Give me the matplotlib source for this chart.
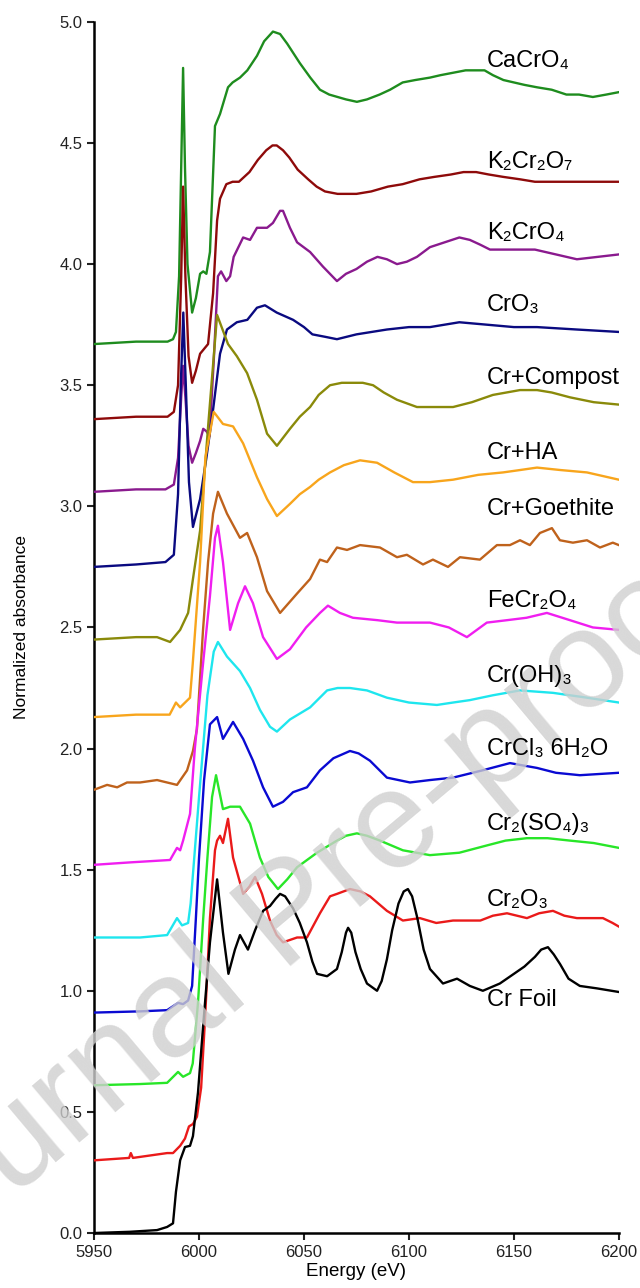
import matplotlib
matplotlib.use("Agg")
import matplotlib.pyplot as plt

FONT = ["Liberation Sans", "DejaVu Sans"]
plt.rcParams["font.family"] = FONT

# ---- data (energy in eV, normalized absorbance) ----
cacro4_e = [5950, 5970, 5985, 5987.6, 5989, 5990.5, 5991.5, 5992.4, 5993.3, 5994.5, 5996.7, 5998.5,
            6000.5, 6002, 6003.5, 6005.2, 6007.6, 6010, 6013.8, 6016, 6019.5, 6023, 6027.6, 6031,
            6035.2, 6038.6, 6042, 6045, 6048, 6053, 6057.6, 6062, 6066, 6070, 6075.2, 6080,
            6086, 6091, 6097, 6103, 6110, 6115, 6121, 6127, 6132.4, 6136, 6140, 6145, 6150,
            6155, 6161, 6168, 6175, 6181, 6187.6, 6194, 6200]
cacro4_a = [3.67, 3.68, 3.68, 3.69, 3.72, 3.95, 4.40, 4.81, 4.40, 4.00, 3.80, 3.86,
            3.96, 3.97, 3.96, 4.05, 4.57, 4.62, 4.73, 4.75, 4.77, 4.80, 4.86, 4.92,
            4.96, 4.95, 4.91, 4.87, 4.83, 4.77, 4.72, 4.70, 4.69, 4.68, 4.67, 4.68,
            4.70, 4.72, 4.75, 4.76, 4.77, 4.78, 4.79, 4.80, 4.80, 4.80, 4.78, 4.76, 4.75,
            4.74, 4.73, 4.72, 4.70, 4.70, 4.69, 4.70, 4.71]

k2cr2o7_e = [5950, 5970, 5985, 5988, 5990, 5991.5, 5992.4, 5993.5, 5995, 5996.7, 5998.5, 6000.5,
             6004.3, 6006.7, 6008.6, 6010, 6013, 6016, 6019, 6024, 6028, 6032, 6035, 6037,
             6040, 6043, 6047, 6052, 6056, 6060, 6066, 6075, 6082, 6090, 6097, 6105, 6112,
             6120, 6126, 6132, 6138, 6145, 6153, 6160, 6168, 6176, 6185, 6193, 6200]
k2cr2o7_a = [3.36, 3.37, 3.37, 3.39, 3.50, 3.95, 4.32, 3.95, 3.62, 3.51, 3.56, 3.63,
             3.67, 3.88, 4.18, 4.27, 4.33, 4.34, 4.34, 4.38, 4.43, 4.47, 4.49, 4.49,
             4.47, 4.44, 4.39, 4.35, 4.32, 4.30, 4.29, 4.29, 4.30, 4.32, 4.33, 4.35, 4.36,
             4.37, 4.38, 4.38, 4.37, 4.36, 4.35, 4.34, 4.34, 4.34, 4.34, 4.34, 4.34]

k2cro4_e = [5950, 5970, 5984, 5988, 5990, 5991.5, 5992.4, 5993.5, 5995, 5996.7, 5998.5, 6000.5,
            6002, 6003.5, 6005, 6007, 6009, 6010.5, 6013, 6014.8, 6016.5, 6021, 6024.3,
            6027.6, 6032.4, 6035.2, 6038.6, 6040, 6043.3, 6046.7, 6052.9, 6059, 6065.7,
            6070, 6075, 6080, 6085, 6089.5, 6094.3, 6099, 6103.8, 6110, 6117, 6124, 6129,
            6134, 6138.6, 6148, 6160, 6170, 6180, 6190, 6200]
k2cro4_a = [3.06, 3.07, 3.07, 3.09, 3.20, 3.45, 3.58, 3.45, 3.25, 3.18, 3.22, 3.27,
            3.32, 3.31, 3.29, 3.60, 3.95, 3.97, 3.93, 3.95, 4.03, 4.11, 4.10,
            4.15, 4.15, 4.17, 4.22, 4.22, 4.15, 4.09, 4.05, 3.99, 3.93,
            3.96, 3.98, 4.01, 4.03, 4.02, 4.00, 4.01, 4.03, 4.07, 4.09, 4.11, 4.10,
            4.08, 4.06, 4.06, 4.06, 4.04, 4.02, 4.03, 4.04]

cro3_e = [5950, 5970, 5984, 5988, 5990, 5991.3, 5992.5, 5993.7, 5995.2, 5997.1, 6000.5, 6003.5,
          6006.7, 6010, 6013.3, 6018, 6023, 6027.6, 6031.4, 6037, 6044.8, 6050, 6054, 6060,
          6065.7, 6075, 6089.5, 6100, 6110, 6124, 6137, 6150, 6161, 6180, 6200]
cro3_a = [2.75, 2.76, 2.77, 2.80, 3.05, 3.50, 3.80, 3.50, 3.10, 2.915, 3.03, 3.20,
          3.40, 3.63, 3.73, 3.76, 3.77, 3.82, 3.83, 3.80, 3.77, 3.74, 3.71, 3.70,
          3.69, 3.71, 3.73, 3.74, 3.74, 3.76, 3.75, 3.74, 3.74, 3.73, 3.72]

compost_e = [5950, 5970, 5980, 5986.2, 5991, 5994.8, 5997.1, 6000.5, 6004.5, 6008.6, 6013.8,
             6018, 6022.9, 6027.6, 6032.4, 6037.1, 6043.3, 6048, 6052.9, 6057, 6062.4, 6068,
             6073.3, 6078, 6082.9, 6088, 6094.3, 6103.8, 6112, 6121, 6130, 6140, 6152.9, 6161,
             6168, 6176.7, 6188, 6200]
compost_a = [2.45, 2.46, 2.46, 2.44, 2.49, 2.56, 2.70, 2.90, 3.35, 3.79, 3.67,
             3.62, 3.55, 3.44, 3.30, 3.25, 3.32, 3.37, 3.41, 3.46, 3.50, 3.51,
             3.51, 3.51, 3.50, 3.47, 3.44, 3.41, 3.41, 3.41, 3.43, 3.46, 3.48, 3.48,
             3.47, 3.45, 3.43, 3.42]

ha_e = [5950, 5970, 5986, 5989, 5991, 5995.7, 5997, 6000.5, 6003, 6007, 6011.4, 6016.2, 6021,
        6027.6, 6032.4, 6037.1, 6043.3, 6048, 6052.9, 6057, 6062.4, 6069, 6076.7, 6084.8,
        6093, 6101.9, 6110, 6121, 6133, 6144.8, 6153, 6161, 6172, 6184.8, 6200]
ha_a = [2.13, 2.14, 2.14, 2.19, 2.17, 2.21, 2.35, 2.77, 3.20, 3.39, 3.34, 3.33, 3.26,
        3.12, 3.03, 2.96, 3.01, 3.05, 3.08, 3.11, 3.14, 3.17, 3.19, 3.18,
        3.14, 3.10, 3.10, 3.11, 3.13, 3.14, 3.15, 3.16, 3.15, 3.14, 3.11]

goethite_e = [5950, 5956.2, 5961, 5965.7, 5971.9, 5980, 5989.5, 5994.3, 5997.1, 5999, 6001.9,
              6004.3, 6006.7, 6009, 6013.3, 6019.5, 6022.9, 6027.6, 6032.4, 6038.6, 6046.7,
              6052.9, 6057.6, 6061, 6065.7, 6070.5, 6076.7, 6086.2, 6094.3, 6099, 6106.7,
              6111.4, 6118.6, 6124.3, 6133.8, 6141.9, 6148.1, 6152.9, 6157.6, 6162.4, 6168.1,
              6171.9, 6178.1, 6184.8, 6191, 6197.1, 6200]
goethite_a = [1.83, 1.85, 1.84, 1.86, 1.86, 1.87, 1.85, 1.91, 1.99, 2.08, 2.49,
              2.77, 2.97, 3.06, 2.97, 2.87, 2.89, 2.79, 2.65, 2.56, 2.64,
              2.70, 2.78, 2.77, 2.83, 2.82, 2.84, 2.83, 2.79, 2.80, 2.76,
              2.78, 2.75, 2.79, 2.78, 2.84, 2.84, 2.86, 2.84, 2.89, 2.91,
              2.86, 2.85, 2.86, 2.83, 2.85, 2.84]

fecr2o4_e = [5950, 5967, 5986.2, 5989.5, 5991, 5992.4, 5995.7, 5998, 6001.9, 6005.2, 6007.6,
             6009, 6011.4, 6014.8, 6018.6, 6021.9, 6025.7, 6030.5, 6037.1, 6043.3, 6051,
             6057.6, 6061.4, 6067.1, 6073.3, 6085, 6094.3, 6110, 6119, 6127.6, 6137.1,
             6146.7, 6156, 6165.7, 6176.7, 6187.6, 6200]
fecr2o4_a = [1.52, 1.53, 1.54, 1.59, 1.58, 1.62, 1.73, 2.00, 2.35, 2.63, 2.87,
             2.92, 2.77, 2.49, 2.60, 2.67, 2.60, 2.46, 2.37, 2.41, 2.50,
             2.56, 2.59, 2.56, 2.54, 2.53, 2.52, 2.52, 2.50, 2.46, 2.52,
             2.53, 2.54, 2.56, 2.53, 2.50, 2.49]

croh3_e = [5950, 5971.9, 5984.8, 5989.5, 5991.9, 5994.8, 5996, 6000, 6004, 6007, 6009,
           6013.3, 6019.5, 6024.3, 6029, 6033.8, 6037.1, 6043.3, 6052.9, 6061, 6066, 6071.9,
           6080, 6089.5, 6100, 6113.3, 6121, 6129, 6140, 6152.9, 6168.6, 6184.8, 6200]
croh3_a = [1.22, 1.22, 1.23, 1.30, 1.27, 1.28, 1.36, 1.80, 2.22, 2.40, 2.44,
           2.38, 2.32, 2.25, 2.16, 2.09, 2.07, 2.12, 2.17, 2.24, 2.25, 2.25,
           2.24, 2.21, 2.19, 2.18, 2.19, 2.20, 2.22, 2.24, 2.23, 2.21, 2.19]

crcl3_e = [5950, 5971.9, 5984.8, 5990, 5992.4, 5994.8, 5996.7, 5998.5, 6000, 6002.4, 6005.2,
           6008.6, 6011.4, 6016.2, 6021, 6025.7, 6030.5, 6035.2, 6040, 6044.8, 6051.4,
           6057.6, 6064, 6071.9, 6076, 6081.4, 6089.5, 6100.5, 6110, 6121, 6135, 6148.1,
           6161, 6170, 6181.4, 6200]
crcl3_a = [0.91, 0.915, 0.92, 0.95, 0.945, 0.96, 1.02, 1.30, 1.55, 1.87, 2.10,
           2.13, 2.04, 2.11, 2.04, 1.95, 1.84, 1.76, 1.78, 1.82, 1.84,
           1.91, 1.96, 1.99, 1.98, 1.95, 1.88, 1.86, 1.87, 1.88, 1.91, 1.94,
           1.92, 1.90, 1.89, 1.90]

cr2so43_e = [5950, 5971.9, 5984.8, 5990, 5992.4, 5995.7, 5997, 5999.5, 6002, 6004, 6006.2,
             6008.1, 6011.4, 6014.8, 6019.5, 6024.3, 6029, 6033, 6037.6, 6042, 6046.7, 6056.2,
             6065.7, 6070, 6075.2, 6080, 6086.2, 6097.1, 6110, 6124, 6137.1, 6146, 6156.2,
             6166, 6176.7, 6188, 6200]
cr2so43_a = [0.61, 0.615, 0.62, 0.665, 0.645, 0.66, 0.70, 0.95, 1.30, 1.55, 1.80,
             1.89, 1.75, 1.76, 1.76, 1.69, 1.55, 1.47, 1.42, 1.46, 1.51, 1.57,
             1.62, 1.64, 1.65, 1.64, 1.62, 1.58, 1.56, 1.57, 1.60, 1.62, 1.63,
             1.63, 1.62, 1.61, 1.59]

cr2o3_e = [5950, 5966.7, 5967.5, 5968.5, 5984.8, 5987.6, 5991, 5993.3, 5995.2, 5997.1, 5999,
           6001, 6002.9, 6005.2, 6007.6, 6008.6, 6010, 6011.4, 6013.8, 6016.2, 6021, 6024,
           6026.7, 6030, 6033.8, 6037, 6040, 6046.7, 6051.4, 6057.6, 6062.4, 6065.7, 6071.9,
           6077, 6081.4, 6089.5, 6097.1, 6105.2, 6113, 6121, 6134, 6140, 6146.7, 6156.2,
           6162, 6168.6, 6174, 6180, 6192.4, 6197, 6201]
cr2o3_a = [0.30, 0.31, 0.33, 0.31, 0.33, 0.33, 0.36, 0.39, 0.44, 0.45, 0.48,
           0.60, 0.89, 1.30, 1.58, 1.62, 1.64, 1.61, 1.71, 1.55, 1.40, 1.43,
           1.47, 1.40, 1.29, 1.23, 1.20, 1.22, 1.22, 1.32, 1.39, 1.40, 1.42,
           1.41, 1.39, 1.33, 1.29, 1.30, 1.28, 1.29, 1.29, 1.31, 1.32, 1.30,
           1.32, 1.33, 1.31, 1.30, 1.30, 1.28, 1.26]

foil_e = [5950, 5967, 5980, 5984.8, 5987.6, 5989, 5991, 5993.3, 5995.7, 5997.1, 5999.5,
          6001.9, 6005.2, 6008.6, 6011.4, 6014, 6017.1, 6019.5, 6023.3, 6026.7, 6030.5,
          6033.8, 6036.5, 6038.6, 6041, 6044.8, 6048, 6051.4, 6054, 6056.2, 6061, 6065.7,
          6068, 6070, 6071, 6072.5, 6074.5, 6077, 6080, 6084.8, 6087, 6089.5, 6092, 6095,
          6097.5, 6099.5, 6101.5, 6104, 6107, 6110, 6116.2, 6122.9, 6129, 6135.2, 6143.3,
          6150, 6155, 6160, 6163, 6166.2, 6169, 6172, 6176, 6181.4, 6189.5, 6200]
foil_a = [0.00, 0.005, 0.012, 0.025, 0.04, 0.17, 0.30, 0.355, 0.36, 0.40, 0.58,
          0.85, 1.20, 1.46, 1.24, 1.07, 1.17, 1.23, 1.17, 1.25, 1.33,
          1.35, 1.38, 1.40, 1.39, 1.34, 1.28, 1.20, 1.12, 1.07, 1.06, 1.09,
          1.16, 1.24, 1.26, 1.24, 1.16, 1.09, 1.03, 1.00, 1.04, 1.13, 1.25, 1.36,
          1.41, 1.42, 1.39, 1.30, 1.17, 1.09, 1.03, 1.05, 1.02, 1.00, 1.03,
          1.07, 1.10, 1.14, 1.17, 1.18, 1.15, 1.11, 1.05, 1.02, 1.01, 0.995]

series = [
    ("CaCrO₄", cacro4_e, cacro4_a, "#1e8c1e", 4.84),
    ("K₂Cr₂O₇", k2cr2o7_e, k2cr2o7_a, "#8e0a0a", 4.42),
    ("K₂CrO₄", k2cro4_e, k2cro4_a, "#8a1a8e", 4.13),
    ("CrO₃", cro3_e, cro3_a, "#0a0a80", 3.83),
    ("Cr+Compost", compost_e, compost_a, "#8a8a0a", 3.53),
    ("Cr+HA", ha_e, ha_a, "#f8a51c", 3.22),
    ("Cr+Goethite", goethite_e, goethite_a, "#bf621c", 2.99),
    ("FeCr₂O₄", fecr2o4_e, fecr2o4_a, "#f01ef0", 2.61),
    ("Cr(OH)₃", croh3_e, croh3_a, "#1ee6ee", 2.30),
    ("CrCl₃ 6H₂O", crcl3_e, crcl3_a, "#0a0ad2", 2.00),
    ("Cr₂(SO₄)₃", cr2so43_e, cr2so43_a, "#28e628", 1.69),
    ("Cr₂O₃", cr2o3_e, cr2o3_a, "#ea1a1a", 1.375),
    ("Cr Foil", foil_e, foil_a, "#000000", 0.96),
]
label_x = 6137

fig = plt.figure(figsize=(6.4, 12.88), dpi=100)
ax = fig.add_axes([0.147, 0.0427, 0.82, 0.9403])

# watermark, drawn under the labels but over the spectra
ax.text(0.491, 0.266, "Journal Pre-proof", transform=fig.transFigure, fontsize=101,
        rotation=40, rotation_mode="anchor", color="#cfcfcf", alpha=0.8,
        ha="center", va="baseline", zorder=5, clip_on=False)

for name, e, a, color, ly in series:
    ax.plot(e, a, color=color, linewidth=1.7, zorder=3)
    ax.text(label_x, ly, name, fontsize=17, va="center", ha="left", family=FONT, zorder=6)

ax.set_xlim(5950, 6200)
ax.set_ylim(0, 5.0)
ax.set_xticks([5950, 6000, 6050, 6100, 6150, 6200])
ax.set_yticks([0.0, 0.5, 1.0, 1.5, 2.0, 2.5, 3.0, 3.5, 4.0, 4.5, 5.0])
ax.set_yticklabels([f"{v:.1f}" for v in ax.get_yticks()])
ax.tick_params(direction="out", length=5, width=1.5, labelsize=12, colors="#222222")
for side in ("top", "right"):
    ax.spines[side].set_visible(False)
for side in ("left", "bottom"):
    ax.spines[side].set_linewidth(1.8)
ax.set_xlabel("Energy (eV)", fontsize=13.5, labelpad=2)
ax.set_ylabel("Normalized absorbance", fontsize=12.5, labelpad=22)

fig.savefig("out.png", dpi=100)
